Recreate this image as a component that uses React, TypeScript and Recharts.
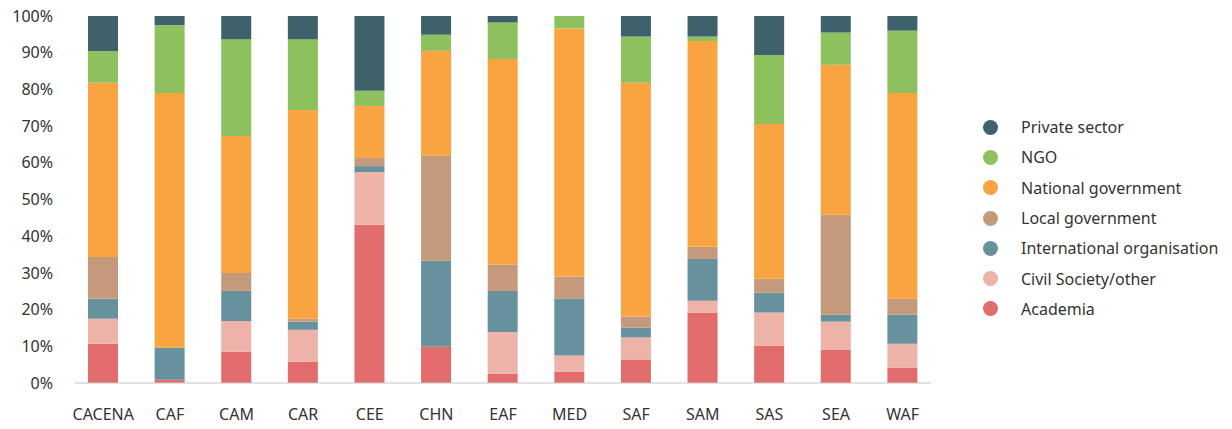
import { BarChart, Bar, XAxis, YAxis } from "recharts";

const regions = ["CACENA", "CAF", "CAM", "CAR", "CEE", "CHN", "EAF", "MED", "SAF", "SAM", "SAS", "SEA", "WAF"];

const academia = [10.7, 0.9, 8.5, 5.8, 43.1, 9.9, 2.5, 3.1, 6.4, 19.1, 10.2, 9.1, 4.2];
const civilSociety = [6.8, 0, 8.4, 8.7, 14.4, 0, 11.4, 4.4, 6.0, 3.3, 9.0, 7.6, 6.5];
const internationalOrg = [5.4, 8.7, 8.2, 2.2, 1.6, 23.4, 11.2, 15.5, 2.7, 11.4, 5.4, 1.9, 7.9];
const localGov = [11.4, 0, 4.9, 0.8, 2.2, 28.6, 7.1, 6.0, 3.0, 3.3, 3.8, 27.2, 4.4];
const nationalGov = [47.4, 69.4, 37.3, 56.9, 14.2, 28.6, 56.1, 67.6, 63.7, 56.1, 42.2, 40.8, 56.1];
const ngo = [8.7, 18.5, 26.4, 19.3, 4.1, 4.4, 9.9, 3.4, 12.6, 1.2, 18.8, 8.8, 17.0];
const privateSector = [9.5, 2.5, 6.3, 6.3, 20.4, 5.1, 1.8, 0, 5.6, 5.6, 10.6, 4.5, 4.0];

const yTicks = [0, 0.1, 0.2, 0.3, 0.4, 0.5, 0.6, 0.7, 0.8, 0.9, 1];

// bottom to top stacking order
const series = [
  { key: "academia", name: "Academia", color: "#e26b6b", values: academia },
  { key: "civil", name: "Civil Society/other", color: "#edb3a8", values: civilSociety },
  { key: "intl", name: "International organisation", color: "#66919d", values: internationalOrg },
  { key: "local", name: "Local government", color: "#c59a7c", values: localGov },
  { key: "national", name: "National government", color: "#f9a341", values: nationalGov },
  { key: "ngo", name: "NGO", color: "#8dc15d", values: ngo },
  { key: "private", name: "Private sector", color: "#3f616b", values: privateSector },
];

const data = regions.map((region, i) => {
  const row: Record<string, string | number> = { region };
  series.forEach((s) => {
    row[s.key] = s.values[i];
  });
  return row;
});

const font = "'Noto Sans', sans-serif";

function LegendList() {
  return (
    <div style={{ position: "absolute", left: 983, top: 112, fontFamily: font, fontSize: 16, color: "#333" }}>
      {[...series].reverse().map((s) => (
        <div key={s.key} style={{ display: "flex", alignItems: "center", height: 30.3 }}>
          <span
            style={{
              width: 15,
              height: 15,
              borderRadius: "50%",
              background: s.color,
              display: "inline-block",
              marginRight: 23,
            }}
          />
          <span>{s.name}</span>
        </div>
      ))}
    </div>
  );
}

export default function App() {
  return (
    <div style={{ position: "absolute", left: 0, top: 0, width: 1232, height: 429, background: "#fff" }}>
      <BarChart
        width={1232}
        height={429}
        data={data}
        stackOffset="expand"
        barSize={30}
        margin={{ top: 16, right: 301, bottom: 16, left: 0 }}
      >
        <XAxis
          dataKey="region"
          axisLine={{ stroke: "#c4c4c4" }}
          tickLine={false}
          tickMargin={20}
          height={30}
          padding={{ left: -5, right: -5 }}
          tick={{ fill: "#333", fontSize: 16, fontFamily: font }}
          interval={0}
        />
        <YAxis
          width={75}
          domain={[0, 1]}
          ticks={yTicks}
          axisLine={false}
          tickLine={false}
          tickMargin={16}
          tickFormatter={(v: number) => `${Math.round(v * 100)}%`}
          tick={{ fill: "#333", fontSize: 16, fontFamily: font }}
        />
        {series.map((s) => (
          <Bar key={s.key} dataKey={s.key} name={s.name} stackId="a" fill={s.color} isAnimationActive={false} />
        ))}
      </BarChart>
      <LegendList />
    </div>
  );
}
